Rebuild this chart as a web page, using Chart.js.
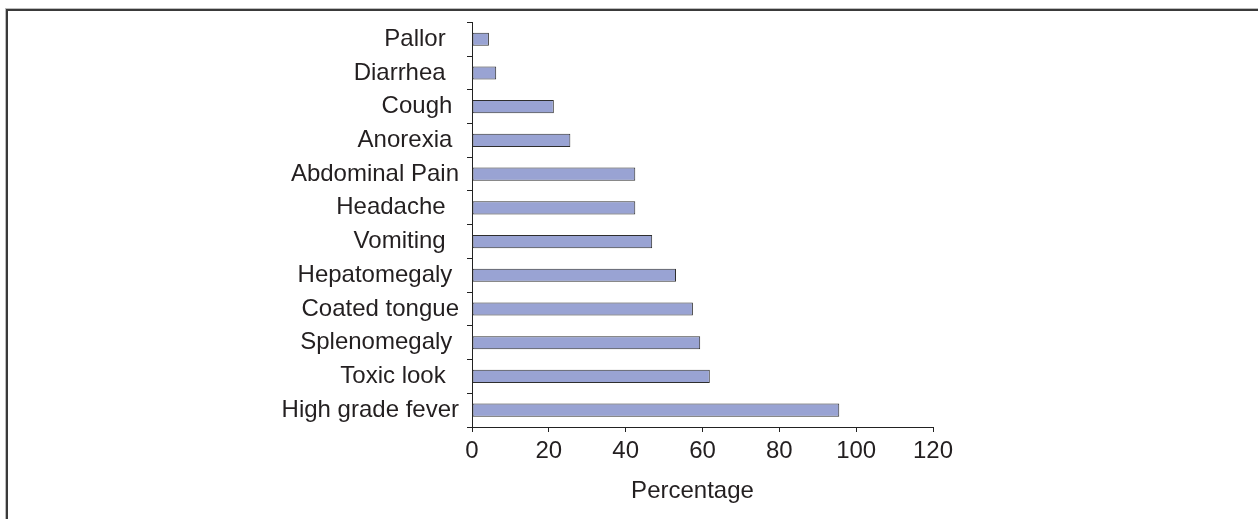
<!DOCTYPE html>
<html>
<head>
<meta charset="utf-8">
<script src="https://cdn.jsdelivr.net/npm/chart.js@4/dist/chart.umd.min.js"></script>
<style>
  html, body { margin: 0; padding: 0; background: #fff; overflow: hidden; }
  #wrap { position: relative; width: 1258px; height: 519px; }
  #frame {
    position: absolute; left: 6px; top: 9px; width: 1400px; height: 700px;
    border-top: 2px solid #3a3a3a; border-left: 2px solid #3a3a3a;
    box-shadow: -1px -1px 0 #bdbdbd;
  }
  #chart { position: absolute; left: 0; top: 0; }
</style>
</head>
<body>
<div id="wrap">
  <div id="frame"></div>
  <canvas id="chart" width="1258" height="519"></canvas>
</div>
<script>
// Symptoms, listed top to bottom (labels keep their trailing spaces)
const symptoms = [
  'Pallor  ', 'Diarrhea  ', 'Cough ', 'Anorexia ', 'Abdominal Pain',
  'Headache  ', 'Vomiting  ', 'Hepatomegaly ', 'Coated tongue',
  'Splenomegaly ', 'Toxic look  ', 'High grade fever'
];
// Share of patients with each symptom (%)
const percentages = [4.4, 6.3, 21.3, 25.6, 42.5, 42.5, 46.9, 53.1, 57.5, 59.4, 61.9, 95.6];
// Percentage axis
const axisMin = 0;
const axisMax = 120;
const axisStep = 20;
const axisTitle = 'Percentage   ';

const textColor = '#231f20';
const lineColor = '#222222';
const fontFamily = "'Liberation Sans', Arial, Helvetica, sans-serif";

new Chart(document.getElementById('chart'), {
  type: 'bar',
  data: {
    labels: symptoms,
    datasets: [{
      data: percentages,
      backgroundColor: '#99a3d3',
      borderColor: '#2e2e2e',
      borderWidth: 1,
      borderSkipped: false,
      categoryPercentage: 1,
      barPercentage: 0.39
    }]
  },
  options: {
    indexAxis: 'y',
    responsive: false,
    animation: false,
    devicePixelRatio: 1,
    layout: { padding: { left: 0, top: 22, right: 325, bottom: 0 } },
    plugins: {
      legend: { display: false },
      tooltip: { enabled: false }
    },
    scales: {
      y: {
        afterFit: (s) => { s.width = 472; },
        grid: {
          offset: true,
          drawOnChartArea: false,
          drawTicks: true,
          tickLength: 5,
          color: lineColor,
          lineWidth: 1
        },
        border: { display: true, color: lineColor, width: 1 },
        ticks: {
          color: textColor,
          padding: 8,
          autoSkip: false,
          font: { family: fontFamily, size: 24 }
        }
      },
      x: {
        min: axisMin,
        max: axisMax,
        afterFit: (s) => { s.height = 92; },
        grid: {
          drawOnChartArea: false,
          drawTicks: true,
          tickLength: 5,
          color: lineColor,
          lineWidth: 1
        },
        border: { display: true, color: lineColor, width: 1 },
        ticks: {
          stepSize: axisStep,
          color: textColor,
          padding: 5,
          maxRotation: 0,
          font: { family: fontFamily, size: 24 }
        },
        title: {
          display: true,
          text: axisTitle,
          color: textColor,
          padding: { top: 0, bottom: 13 },
          font: { family: fontFamily, size: 24 }
        }
      }
    }
  }
});
</script>
</body>
</html>
